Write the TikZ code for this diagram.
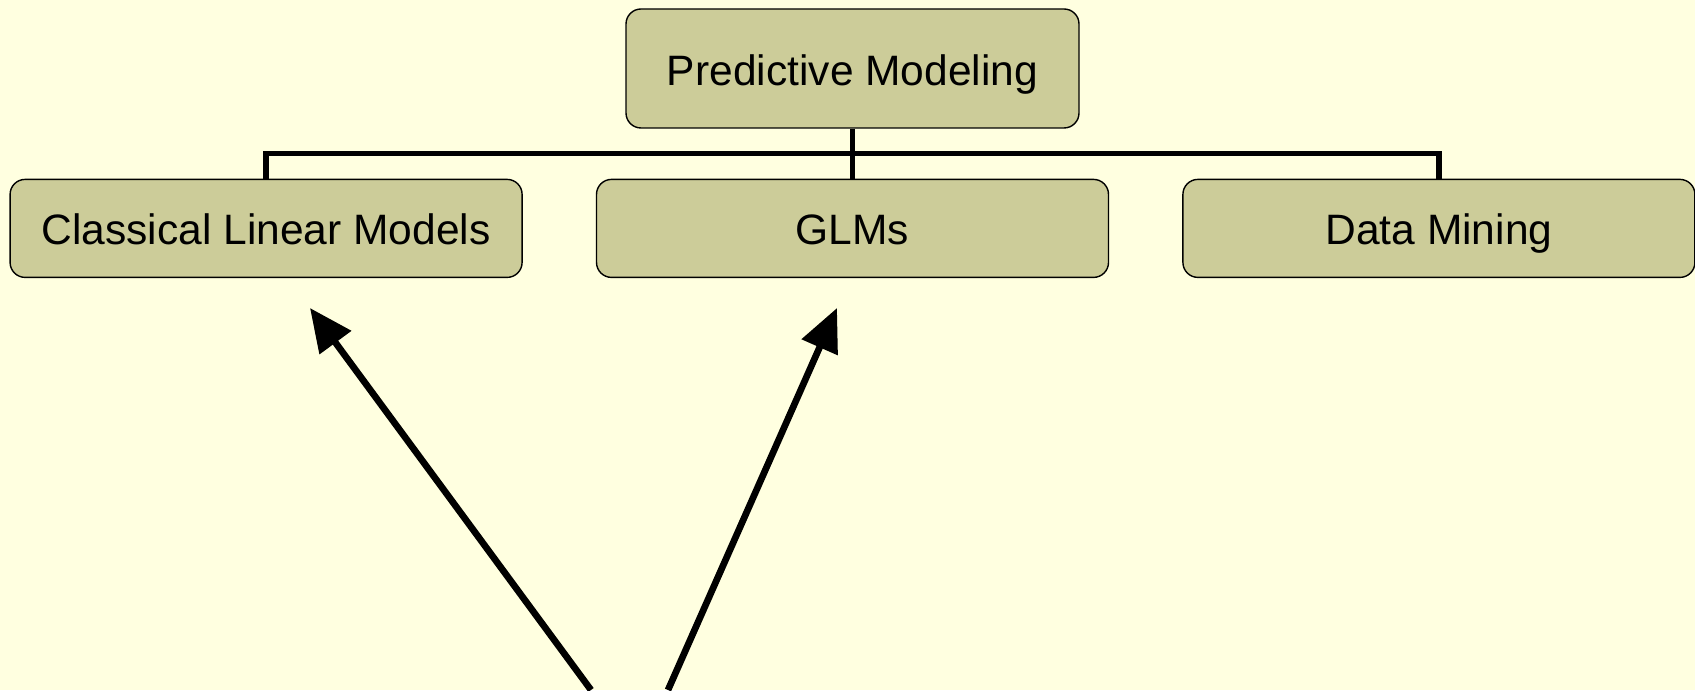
\documentclass[tikz,border=0pt]{standalone}
\usepackage{fontspec}
\setmainfont{Liberation Sans}
\usepackage{tikz}
\usetikzlibrary{positioning, arrows.meta}
\usepackage{xcolor}
\definecolor{bgyellow}{RGB}{255,255,224}
\definecolor{boxolive}{RGB}{204,204,153}

\tikzset{
    box/.style={draw=black, line width=0.4pt, fill=boxolive, rounded corners=1.5mm,
        minimum width=5.12cm, minimum height=0.98cm, inner sep=0pt,
        text height=10pt, text depth=0.6pt,
        font=\fontsize{12.1pt}{14pt}\selectfont},
    conn/.style={line width=1.5pt},
    bigarrow/.style={line width=1.9pt, -{Triangle[length=4.3mm, width=3.8mm]}}
}

\begin{document}
\begin{tikzpicture}
    % background
    \fill[bgyellow] (0,0) rectangle (16.95,6.9);
    \useasboundingbox (0,0) rectangle (16.95,6.9);
    % boxes
    \node[box, minimum width=4.53cm, minimum height=1.19cm] (pm) at (8.525,6.215) {Predictive Modeling};
    \node[box, below=0.5cm of pm] (glm) {GLMs};
    \node[box, left=0.73cm of glm] (clm) {Classical Linear Models};
    \node[box, right=0.73cm of glm] (dm) {Data Mining};
    % tree lines
    \draw[conn] (pm.south) -- (glm.north);
    \draw[conn] (clm.north) -- ++(0,0.25) -| (dm.north);
    % arrows
    \coordinate (tailA) at (5.91,0);
    \coordinate (tipA) at (3.10,3.82);
    \coordinate (tailB) at (6.68,0);
    \coordinate (tipB) at (8.37,3.82);
    \draw[bigarrow] (tailA) -- (tipA);
    \draw[bigarrow] (tailB) -- (tipB);
\end{tikzpicture}
\end{document}
